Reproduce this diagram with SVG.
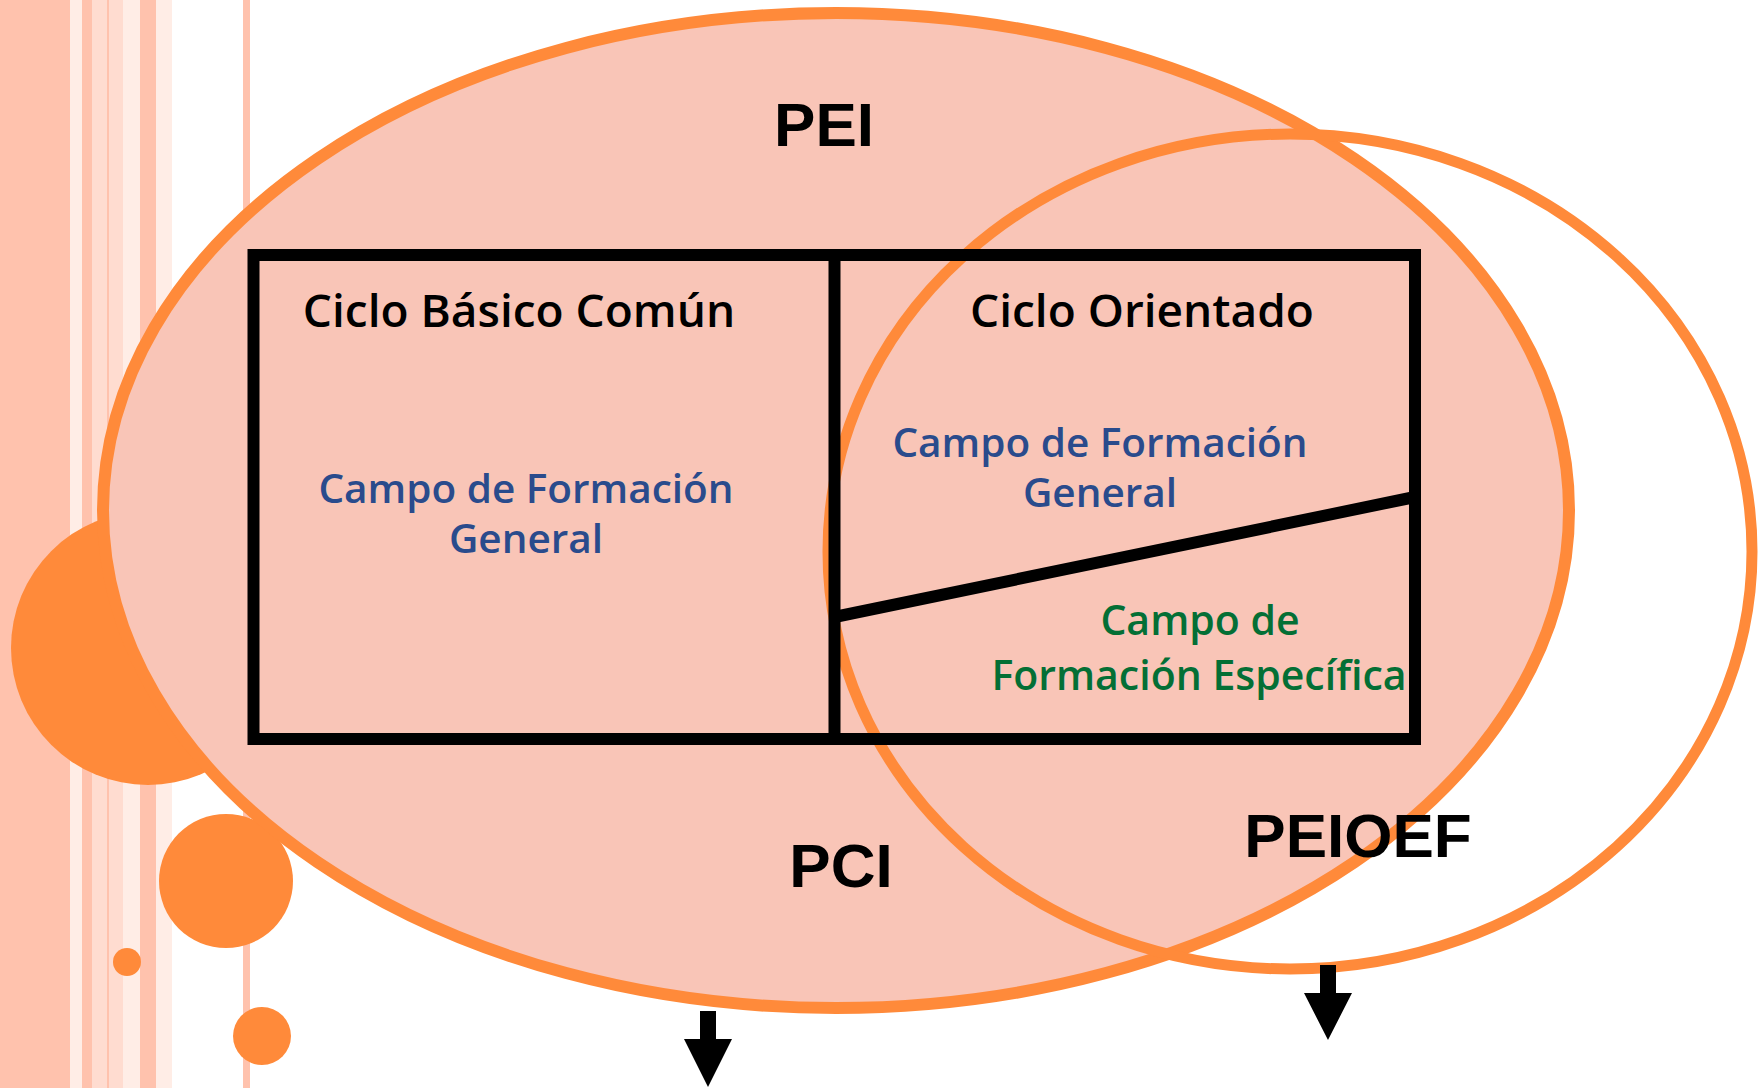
<svg xmlns="http://www.w3.org/2000/svg" width="1762" height="1088" viewBox="0 0 1762 1088">
  <style>
    .s1 { fill: #FFC2AD; }
    .s2 { fill: #FFDCD0; }
    .s3 { fill: #FFEDE6; }
    .dot { fill: #FF8A3A; }
    .ring { stroke: #FF8A3A; stroke-width: 12; }
    .box { fill: none; stroke: #000; stroke-width: 12; }
    .big { font-family: "Liberation Sans", Arial, sans-serif; font-weight: bold; font-size: 62px; fill: #000; text-anchor: middle; }
    .hd { font-family: "Open Sans", "Noto Sans", sans-serif; font-weight: 600; font-size: 46px; fill: #000; text-anchor: middle; }
    .blue { font-family: "Open Sans", "Noto Sans", sans-serif; font-weight: 600; font-size: 40.5px; fill: #2A4B8C; text-anchor: middle; }
    .green { font-family: "Open Sans", "Noto Sans", sans-serif; font-weight: 600; font-size: 41px; fill: #046F35; text-anchor: middle; }
    .arrow { fill: #000; }
  </style>
  <rect width="1762" height="1088" fill="#FFFFFF"/>
  <g id="background">
    <rect class="s1" x="0" y="0" width="70" height="1088"/>
    <rect class="s3" x="70" y="0" width="12" height="1088"/>
    <rect class="s1" x="82" y="0" width="10" height="1088"/>
    <rect class="s2" x="92" y="0" width="15" height="1088"/>
    <rect class="s1" x="107" y="0" width="2" height="1088"/>
    <rect class="s2" x="109" y="0" width="14" height="1088"/>
    <rect class="s3" x="123" y="0" width="17" height="1088"/>
    <rect class="s1" x="140" y="0" width="16" height="1088"/>
    <rect class="s3" x="156" y="0" width="16" height="1088"/>
    <rect class="s1" x="243" y="0" width="7" height="1088"/>
    <circle class="dot" cx="148" cy="648" r="137"/>
    <circle class="dot" cx="226" cy="881" r="67"/>
    <circle class="dot" cx="127" cy="962" r="14"/>
    <circle class="dot" cx="262" cy="1036" r="29"/>
  </g>
  <g id="PEI">
    <ellipse class="ring" cx="836" cy="510.5" rx="733" ry="497.5" fill="#F9C5B7"/>
    <text class="big" x="824" y="146">PEI</text>
  </g>
  <g id="PEIOEF">
    <ellipse class="ring" cx="1290" cy="551.5" rx="462" ry="417.5" fill="none" style="stroke-width:11"/>
    <text class="big" x="1358" y="857">PEIOEF</text>
  </g>
  <g id="PCI">
    <text class="big" x="841" y="887">PCI</text>
  </g>
  <g id="table">
    <rect class="box" x="253.5" y="255" width="1161.5" height="484"/>
    <line class="box" x1="834.5" y1="255" x2="834.5" y2="739"/>
    <line class="box" x1="834.5" y1="617" x2="1415" y2="497"/>
  </g>
  <g id="ciclo-basico">
    <text class="hd" x="519" y="327">Ciclo Básico Común</text>
    <text class="blue"><tspan x="526" y="503">Campo de Formación</tspan><tspan x="526" y="553">General</tspan></text>
  </g>
  <g id="ciclo-orientado">
    <text class="hd" x="1142" y="327">Ciclo Orientado</text>
    <text class="blue"><tspan x="1100" y="457">Campo de Formación</tspan><tspan x="1100" y="507">General</tspan></text>
    <text class="green"><tspan x="1200" y="635">Campo de</tspan><tspan x="1199" y="690">Formación Específica</tspan></text>
  </g>
  <g id="connectors">
    <polygon class="arrow" points="700,1011 716,1011 716,1039 732,1039 708,1087 684,1039 700,1039"/>
    <polygon class="arrow" points="1320,965 1336,965 1336,993 1352,993 1328,1040 1304,993 1320,993"/>
  </g>
</svg>
